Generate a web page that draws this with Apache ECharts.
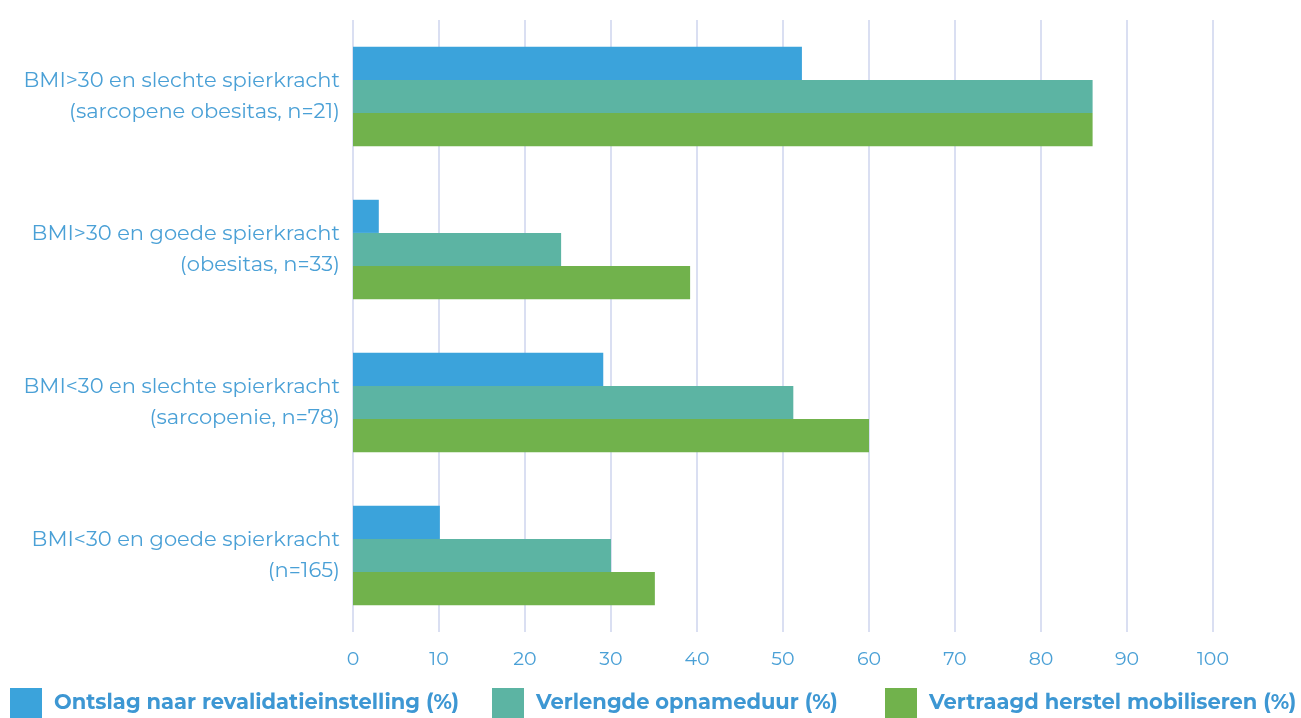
<!DOCTYPE html>
<html>
<head>
<meta charset="utf-8">
<script src="https://cdn.jsdelivr.net/npm/echarts@6/dist/echarts.min.js"></script>
<style>html,body{margin:0;padding:0;background:#fff}#c{width:1301px;height:718px}</style>
</head>
<body>
<div id="c"></div>
<script>
const categories = [
  'BMI>30 en slechte spierkracht\n(sarcopene obesitas, n=21)',
  'BMI>30 en goede spierkracht\n(obesitas, n=33)',
  'BMI<30 en slechte spierkracht\n(sarcopenie, n=78)',
  'BMI<30 en goede spierkracht\n(n=165)'
];
const seriesNames = ['Ontslag naar revalidatieinstelling (%)', 'Verlengde opnameduur (%)', 'Vertraagd herstel mobiliseren (%)'];
const ontslag = [52.2, 3.0, 29.1, 10.1];
const opnameduur = [86.0, 24.2, 51.2, 30.0];
const herstel = [86.0, 39.2, 60.0, 35.1];
const colors = ['#3ba3db', '#5cb4a3', '#71b24c'];
const font = 'Montserrat, "Open Sans", "Noto Sans", sans-serif';
const labelColor = '#4aa0d6';

const chart = echarts.init(document.getElementById('c'));
const legendBase = {
  bottom: 0, padding: 0, itemWidth: 32, itemHeight: 30, icon: 'rect',
  textStyle: {color: '#3d97d3', fontSize: 21, fontWeight: 'bold', fontFamily: font, padding: [0, 0, 0, 7]},
  selectedMode: false
};
chart.setOption({
  animation: false,
  grid: {left: 353, right: 88, top: 20, bottom: 86},
  legend: [
    Object.assign({}, legendBase, {left: 10, data: [seriesNames[0]]}),
    Object.assign({}, legendBase, {left: 492, data: [seriesNames[1]]}),
    Object.assign({}, legendBase, {left: 885, data: [seriesNames[2]]})
  ],
  xAxis: {
    type: 'value', min: 0, max: 100, interval: 10,
    axisLine: {show: false}, axisTick: {show: false},
    splitLine: {lineStyle: {color: '#dadff2', width: 2}},
    axisLabel: {color: labelColor, fontSize: 19, fontFamily: font, margin: 18}
  },
  yAxis: {
    type: 'category', data: categories, inverse: true,
    axisLine: {show: false}, axisTick: {show: false},
    axisLabel: {color: labelColor, fontSize: 21, fontFamily: font, lineHeight: 31, margin: 13, align: 'right', padding: [7, 0, 0, 0]}
  },
  series: [
    {name: seriesNames[0], type: 'bar', data: ontslag, itemStyle: {color: colors[0]}, barGap: '0%', barCategoryGap: '35%'},
    {name: seriesNames[1], type: 'bar', data: opnameduur, itemStyle: {color: colors[1]}, barGap: '0%', barCategoryGap: '35%'},
    {name: seriesNames[2], type: 'bar', data: herstel, itemStyle: {color: colors[2]}, barGap: '0%', barCategoryGap: '35%'}
  ]
});
</script>
</body>
</html>
